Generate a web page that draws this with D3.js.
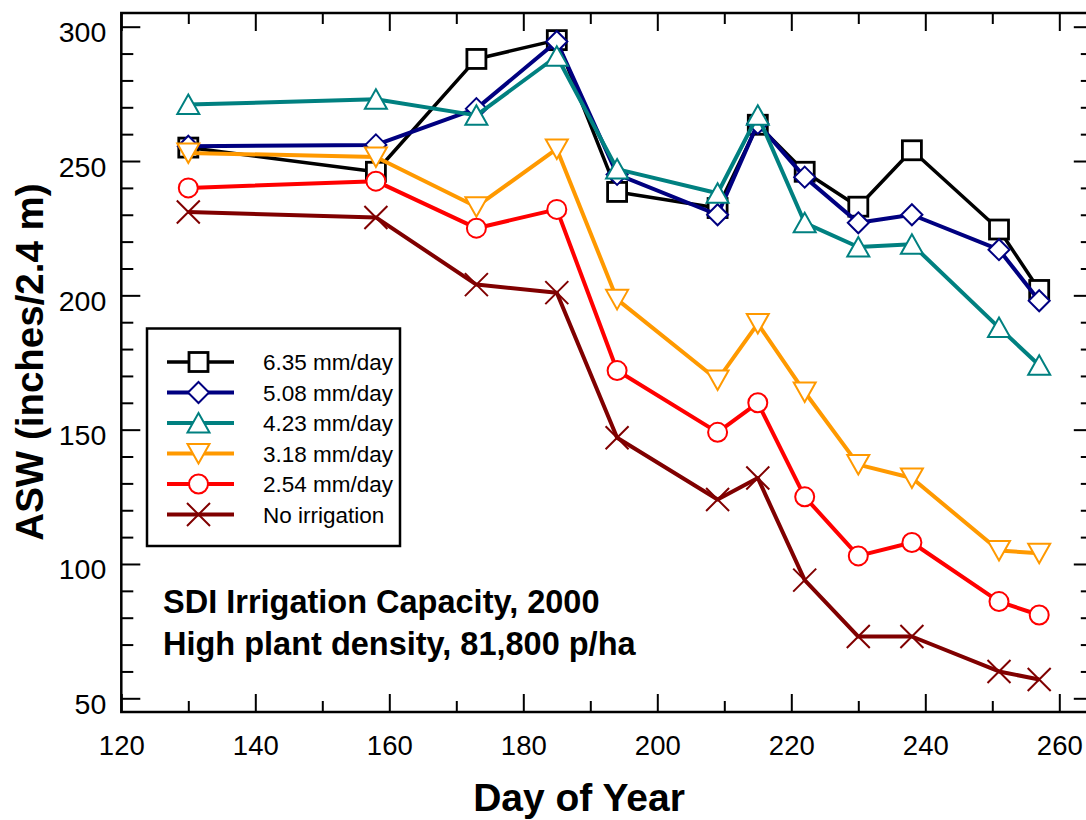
<!DOCTYPE html>
<html>
<head>
<meta charset="utf-8">
<script src="https://cdn.jsdelivr.net/npm/d3@7"></script>
<style>
  html, body { margin: 0; padding: 0; background: #fff; }
  svg { display: block; overflow: hidden; }
  text { font-family: "Liberation Sans", Arial, Helvetica, sans-serif; }
</style>
</head>
<body>
<svg id="chart" width="1086" height="820"></svg>
<script>
// ---------- data ----------
const days = [130, 158, 173, 185, 194, 209, 215, 222, 230, 238, 251, 257];
const seriesNames = ["6.35 mm/day", "5.08 mm/day", "4.23 mm/day", "3.18 mm/day", "2.54 mm/day", "No irrigation"];
const asw635 = [255, 246, 288, 295, 238.5, 232.5, 263.5, 246, 233, 254, 224.5, 202];
const asw508 = [255.5, 256, 269.5, 294.5, 245, 230, 264, 244, 227, 230, 217, 198];
const asw423 = [271, 273, 267, 289, 247, 238, 267, 227, 218, 219, 188, 174];
const asw318 = [253, 251.5, 233, 254.5, 198.5, 168.5, 189.5, 164, 137, 132, 105, 104];
const asw254 = [240, 242.5, 225, 232, 172, 149, 160, 125, 103, 108, 86, 81];
const aswNone = [231, 229, 204, 201, 147, 124, 132, 94, 73, 73, 60, 57];
const xMajorTicks = [120, 140, 160, 180, 200, 220, 240, 260];
const xMinorTicks = [130, 150, 170, 190, 210, 230, 250];
const yMajorTicks = [50, 100, 150, 200, 250, 300];
const yMinorTicks = [60, 70, 80, 90, 110, 120, 130, 140, 160, 170, 180, 190, 210, 220, 230, 240, 260, 270, 280, 290];
const xTitle = "Day of Year";
const yTitle = "ASW (inches/2.4 m)";
const noteLines = ["SDI Irrigation Capacity, 2000", "High plant density, 81,800 p/ha"];

const series = [
  { name: seriesNames[0], values: asw635, color: "#000000", shape: "square", lw: 3.5 },
  { name: seriesNames[1], values: asw508, color: "#000080", shape: "diamond", lw: 4 },
  { name: seriesNames[2], values: asw423, color: "#008080", shape: "triangleUp", lw: 4 },
  { name: seriesNames[3], values: asw318, color: "#ff9900", shape: "triangleDown", lw: 4 },
  { name: seriesNames[4], values: asw254, color: "#ff0000", shape: "circle", lw: 4 },
  { name: seriesNames[5], values: aswNone, color: "#800000", shape: "cross", lw: 4 }
];

// ---------- layout ----------
const L = 121.3, R = 1092.8, T = 13, B = 712;
const svg = d3.select("#chart");
const x = d3.scaleLinear().domain([120, 265]).range([L, R]);
const y = d3.scaleLinear().domain([44.9, 305.1]).range([B, T]);

// ---------- axes ----------
function styleAxis(g) {
  g.select(".domain").remove();
  g.selectAll(".tick line").attr("stroke", "#000").attr("stroke-width", 2);
}
// bottom
svg.append("g").attr("transform", `translate(0,${B})`)
  .call(d3.axisBottom(x).tickValues(xMajorTicks).tickSize(-18).tickPadding(23).tickFormat(d3.format("d")))
  .call(styleAxis)
  .call(g => g.selectAll("text").attr("font-size", 27.5).attr("fill", "#000"));
svg.append("g").attr("transform", `translate(0,${B})`)
  .call(d3.axisBottom(x).tickValues(xMinorTicks).tickSize(-11).tickFormat(""))
  .call(styleAxis);
// top
svg.append("g").attr("transform", `translate(0,${T})`)
  .call(d3.axisTop(x).tickValues(xMajorTicks).tickSize(-18).tickFormat(""))
  .call(styleAxis);
svg.append("g").attr("transform", `translate(0,${T})`)
  .call(d3.axisTop(x).tickValues(xMinorTicks).tickSize(-11).tickFormat(""))
  .call(styleAxis);
// left
svg.append("g").attr("transform", `translate(${L},0)`)
  .call(d3.axisLeft(y).tickValues(yMajorTicks).tickSize(-19).tickPadding(15).tickFormat(d3.format("d")))
  .call(styleAxis)
  .call(g => g.selectAll("text").attr("font-size", 28.5).attr("fill", "#000").attr("dy", "15px"));
svg.append("g").attr("transform", `translate(${L},0)`)
  .call(d3.axisLeft(y).tickValues(yMinorTicks).tickSize(-12).tickFormat(""))
  .call(styleAxis);
// right
svg.append("g").attr("transform", `translate(${R},0)`)
  .call(d3.axisRight(y).tickValues(yMajorTicks).tickSize(-19).tickFormat(""))
  .call(styleAxis);
svg.append("g").attr("transform", `translate(${R},0)`)
  .call(d3.axisRight(y).tickValues(yMinorTicks).tickSize(-12).tickFormat(""))
  .call(styleAxis);

// frame
svg.append("rect").attr("x", L).attr("y", T).attr("width", R - L).attr("height", B - T)
  .attr("fill", "none").attr("stroke", "#000").attr("stroke-width", 2.5);

// titles
svg.append("text").attr("x", 579).attr("y", 811).attr("text-anchor", "middle")
  .attr("font-size", 39).attr("font-weight", "bold").text(xTitle);
svg.append("text").attr("transform", "translate(43,362) rotate(-90)").attr("text-anchor", "middle")
  .attr("font-size", 38.5).attr("font-weight", "bold").text(yTitle);

// ---------- markers ----------
function drawMarker(g, shape, color, cx, cy) {
  if (shape === "square") {
    g.append("rect").attr("x", cx - 9.5).attr("y", cy - 9.5).attr("width", 19).attr("height", 19)
      .attr("fill", "#fff").attr("stroke", color).attr("stroke-width", 2.8);
  } else if (shape === "diamond") {
    g.append("path").attr("d", `M${cx},${cy - 10.5}L${cx + 10.5},${cy}L${cx},${cy + 10.5}L${cx - 10.5},${cy}Z`)
      .attr("fill", "#fff").attr("stroke", color).attr("stroke-width", 2);
  } else if (shape === "triangleUp") {
    g.append("path").attr("d", `M${cx},${cy - 10}L${cx + 11},${cy + 9.5}L${cx - 11},${cy + 9.5}Z`)
      .attr("fill", "#fff").attr("stroke", color).attr("stroke-width", 2);
  } else if (shape === "triangleDown") {
    g.append("path").attr("d", `M${cx},${cy + 10}L${cx + 11},${cy - 9.5}L${cx - 11},${cy - 9.5}Z`)
      .attr("fill", "#fff").attr("stroke", color).attr("stroke-width", 2);
  } else if (shape === "circle") {
    g.append("circle").attr("cx", cx).attr("cy", cy).attr("r", 9.5)
      .attr("fill", "#fff").attr("stroke", color).attr("stroke-width", 2);
  } else if (shape === "cross") {
    g.append("path").attr("d", `M${cx - 11.5},${cy - 11.5}L${cx + 11.5},${cy + 11.5}M${cx + 11.5},${cy - 11.5}L${cx - 11.5},${cy + 11.5}`)
      .attr("fill", "none").attr("stroke", color).attr("stroke-width", 2);
  }
}

// ---------- series ----------
const line = d3.line().x(d => x(d[0])).y(d => y(d[1]));
series.forEach(s => {
  const g = svg.append("g");
  const pts = days.map((d, i) => [d, s.values[i]]);
  g.append("path").attr("d", line(pts)).attr("fill", "none")
    .attr("stroke", s.color).attr("stroke-width", s.lw).attr("stroke-linejoin", "round");
  pts.forEach(p => drawMarker(g, s.shape, s.color, x(p[0]), y(p[1])));
});

// ---------- legend ----------
const lg = svg.append("g");
lg.append("rect").attr("x", 147).attr("y", 328.5).attr("width", 253).attr("height", 217.5)
  .attr("fill", "#fff").attr("stroke", "#000").attr("stroke-width", 2.5);
series.forEach((s, i) => {
  const cy = 362 + i * 30.5;
  lg.append("line").attr("x1", 167).attr("x2", 234).attr("y1", cy).attr("y2", cy)
    .attr("stroke", s.color).attr("stroke-width", s.lw);
  drawMarker(lg, s.shape, s.color, 198.5, cy);
  lg.append("text").attr("x", 263).attr("y", cy + 8).attr("font-size", 22.5).text(s.name);
});

// ---------- annotation ----------
noteLines.forEach((t, i) => {
  svg.append("text").attr("x", 163).attr("y", 613 + i * 42).attr("font-size", 32.5)
    .attr("font-weight", "bold").text(t);
});
</script>
</body>
</html>
